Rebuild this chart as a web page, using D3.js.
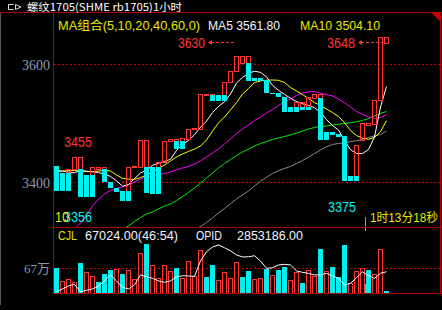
<!DOCTYPE html>
<html><head><meta charset="utf-8">
<script src="https://cdn.jsdelivr.net/npm/d3@7"></script>
<style>html,body{margin:0;padding:0;background:#000;overflow:hidden}</style>
</head><body>
<svg id="c" width="442" height="310" style="display:block;background:#000"></svg>
<script>
// ---- data (tower-line bars: red part top->split, cyan part split->bottom) ----
const towerTop = [3427,3415,3422,3442,3442,3412,3425,3425,3425,3400,3390,3385,3425,3427,3471,3471,3425,3434,3470,3473,3473,3475,3490,3492,3549,3549,3549,3547,3570,3588,3614,3614,3614,3576,3576,3573,3551,3551,3544,3527,3536,3536,3544,3549,3549,3485,3485,3481,3478,3410,3463,3500,3500,3539,3646,3646];
const towerSplit = [3427,3415,3415,3422,3422,3412,3412,3422,3422,3400,3390,3385,3385,3425,3425,3425,3425,3425,3434,3470,3470,3470,3473,3490,3490,3547,3547,3547,3547,3570,3588,3602,3602,3576,3576,3573,3551,3551,3544,3527,3527,3527,3527,3542,3542,3485,3485,3481,3478,3410,3410,3471,3497,3498,3539,3636];
const towerBottom = [3385,3385,3385,3422,3375,3375,3375,3422,3400,3390,3383,3368,3368,3425,3425,3381,3380,3380,3434,3470,3456,3456,3473,3490,3490,3547,3537,3537,3537,3570,3588,3602,3571,3571,3571,3551,3549,3544,3519,3519,3519,3522,3522,3542,3471,3471,3480,3476,3402,3402,3402,3471,3497,3498,3539,3636];

const ma5 = [3418.1,3418.6,3416.9,3415.6,3420.0,3417.6,3417.5,3416.1,3413.1,3409.5,3402.0,3392.9,3395.8,3405.9,3415.3,3420.3,3428.3,3431.9,3434.9,3438.5,3453.4,3463.6,3470.3,3480.2,3492.9,3503.1,3517.8,3528.0,3535.9,3549.2,3567.8,3577.3,3584.2,3587.8,3585.8,3578.3,3563.9,3555.4,3548.5,3541.9,3536.4,3532.7,3529.7,3525.8,3518.1,3505.9,3495.6,3488.1,3470.3,3454.7,3448.3,3448.1,3455.1,3476.3,3527.1,3561.8];
const ma10 = [3419.2,3418.6,3419.5,3419.5,3419.2,3418.3,3417.5,3418.6,3419.8,3418.6,3411.9,3406.3,3405.1,3404.2,3407.5,3411.5,3417.5,3422.9,3428.8,3435.6,3442.4,3447.5,3451.7,3455.9,3461.0,3471.2,3486.4,3500.0,3510.2,3522.0,3534.7,3549.2,3558.5,3568.6,3571.2,3572.5,3572.9,3572.4,3568.6,3560.2,3554.2,3548.3,3541.5,3534.7,3529.7,3523.7,3517.8,3511.0,3500.8,3487.3,3478.8,3474.1,3472.4,3475.4,3485.3,3504.1];
const ma20 = [null,null,null,3320.3,3330.5,3344.1,3359.3,3371.2,3379.7,3385.6,3389.0,3391.5,3394.9,3400.0,3405.1,3408.5,3411.0,3412.7,3414.4,3417.0,3420.3,3423.7,3426.3,3430.5,3435.6,3442.4,3449.2,3455.9,3464.4,3472.9,3482.2,3489.8,3496.6,3504.2,3510.2,3517.0,3522.9,3529.7,3535.6,3540.7,3546.6,3550.8,3552.5,3553.4,3550.3,3548.3,3545.8,3540.7,3534.7,3527.1,3519.5,3514.4,3510.2,3508.0,3509.3,3514.4];
const ma40 = [null,null,null,null,null,null,null,null,null,null,null,3320.3,3325.4,3333.1,3339.8,3345.8,3349.2,3354.2,3359.3,3362.7,3368.6,3375.4,3382.2,3389.8,3398.3,3406.8,3415.3,3423.7,3431.4,3438.1,3444.9,3450.8,3455.9,3461.0,3465.3,3468.6,3472.0,3474.6,3477.1,3479.7,3483.1,3486.4,3489.8,3492.4,3494.1,3494.9,3496.6,3497.8,3499.2,3500.5,3502.2,3504.2,3507.6,3511.9,3516.1,3519.5];
const ma60 = [null,null,null,null,null,null,null,null,null,null,null,null,null,null,null,null,null,null,null,null,null,null,null,3318.6,3324.6,3331.4,3339.0,3347.5,3355.1,3363.2,3371.2,3378.0,3384.7,3393.2,3401.2,3408.0,3414.4,3419.2,3422.9,3426.3,3431.4,3436.4,3441.9,3448.3,3454.2,3459.8,3463.6,3465.3,3466.6,3468.3,3470.0,3472.0,3475.4,3478.0,3480.5,3486.4];

// volume in 万 (10k), colour direction per bar (R = red hollow, C = cyan filled)
const volume = [68.6,33,38,29.5,81,56,46,29.5,52,62,66,52,62,38,108,132,75,40,75,60,68,40,87,46,116,44,76,36,58,40,83,43,60,37.5,41,65,48,62,70.5,35,56,27.6,62,47,119,59,70.5,44,129,26,60,67,62,51,118,6];
const volumeDir = "CRRRCRRCCCRCRRRCRRRRCRRRRCCRRRRCCRRCRCCRRCRRCRCCCRRRCRRC".split("");
// open interest (thousand lots)
const openInterest = [2753,2767,2782,2790,2753,2760,2767,2780,2808,2837,2807,2775,2767,2787,2837,2828,2820,2807,2800,2807,2827,2833,2832,2830,2907,2953,2977,2987,2973,2958,2937,2927,2928,2933,2907,2870,2873,2887,2890,2887,2857,2850,2845,2837,2837,2845,2832,2820,2787,2795,2823,2853,2833,2820,2845,2853];

const priceTicks = [3600, 3400];
const volumeTicks = [67];
const volumeTickLabels = ["67万"];
const title = "螺纹1705(SHME rb1705)1小时";
const maHeader = "MA组合(5,10,20,40,60,0)";
const ma5Label = "MA5 3561.80", ma10Label = "MA10 3504.10";
const highLabels = [{t:"3630", idx:29}, {t:"3648", idx:54}];

// ---- scales ----
const n = towerTop.length;
const x = d3.scaleLinear().domain([0, n]).range([54, 390]);
const y = d3.scaleLinear().domain([3400, 3600]).range([182, 64]);
const yVol = d3.scaleLinear().domain([0, 67]).range([293, 268.3]);
const yOI = d3.scaleLinear().domain([2745, 3072]).range([293.3, 228]);

const RED = "#ff3434", CYAN = "#00f0f0", FRAME = "#b00000", DOT = "#c80000";
const svg = d3.select("#c");

// frame
const frame = svg.append("g").attr("shape-rendering","crispEdges");
frame.append("line").attr("x1",0.5).attr("x2",0.5).attr("y1",13).attr("y2",305).attr("stroke","#555");
frame.append("line").attr("x1",0).attr("x2",442).attr("y1",12.5).attr("y2",12.5).attr("stroke",FRAME);
frame.append("line").attr("x1",53.5).attr("x2",53.5).attr("y1",13).attr("y2",293.5).attr("stroke",FRAME);
frame.append("line").attr("x1",440.5).attr("x2",440.5).attr("y1",13).attr("y2",293.5).attr("stroke",FRAME);
frame.append("line").attr("x1",53).attr("x2",441).attr("y1",227.5).attr("y2",227.5).attr("stroke",FRAME);
frame.append("line").attr("x1",53).attr("x2",441).attr("y1",293.5).attr("y2",293.5).attr("stroke",FRAME);
svg.append("path").attr("d","M431,13 L441,13 L441,22 Z").attr("fill","#c00000");

// title icon + text
svg.append("path").attr("d","M13.5,4.5 H8.5 V9.5 H13.5").attr("fill","none").attr("stroke","#ddd");
svg.append("path").attr("d","M15.5,4.5 L21,7 L15.5,9.5 Z").attr("fill","none").attr("stroke","#ddd");
svg.append("text").attr("x",27).attr("y",11).attr("fill","#fff")
  .attr("font-family","'Noto Sans CJK SC','Liberation Mono',monospace").attr("font-size",10.5)
  .attr("textLength",155).attr("lengthAdjust","spacingAndGlyphs").text(title);

// MA header
const hdrFont = "'Liberation Sans','Noto Sans CJK SC',sans-serif";
svg.append("text").attr("x",58).attr("y",30).attr("fill","#e8e800").attr("font-family",hdrFont).attr("font-size",12.5)
  .attr("textLength",142).attr("lengthAdjust","spacingAndGlyphs").text(maHeader);
svg.append("text").attr("x",208).attr("y",30).attr("fill","#f0f4ff").attr("font-family",hdrFont).attr("font-size",12.5)
  .attr("textLength",72).attr("lengthAdjust","spacingAndGlyphs").text(ma5Label);
svg.append("text").attr("x",300).attr("y",30).attr("fill","#e8e800").attr("font-family",hdrFont).attr("font-size",12.5)
  .attr("textLength",80).attr("lengthAdjust","spacingAndGlyphs").text(ma10Label);

// grid dotted lines + axis labels
svg.append("g").selectAll("line").data(priceTicks).join("line")
  .attr("x1",54).attr("x2",440).attr("y1",d=>Math.round(y(d))+0.5).attr("y2",d=>Math.round(y(d))+0.5)
  .attr("stroke",DOT).attr("stroke-dasharray","2,2").attr("shape-rendering","crispEdges");
svg.append("g").selectAll("text").data(priceTicks).join("text")
  .attr("x",50).attr("y",d=>y(d)+5.5).attr("text-anchor","end").attr("fill","#8a9bb0")
  .attr("font-family","'Liberation Serif',serif").attr("font-size",14).text(d=>d);
svg.append("g").selectAll("line").data(volumeTicks).join("line")
  .attr("x1",54).attr("x2",440).attr("y1",d=>Math.round(yVol(d))+0.5).attr("y2",d=>Math.round(yVol(d))+0.5)
  .attr("stroke",DOT).attr("stroke-dasharray","2,2").attr("shape-rendering","crispEdges");
svg.append("g").selectAll("text").data(volumeTicks).join("text")
  .attr("x",50).attr("y",d=>yVol(d)+5).attr("text-anchor","end").attr("fill","#8a9bb0")
  .attr("font-family","'Liberation Serif','Noto Sans CJK SC',serif").attr("font-size",13).text((d,i)=>volumeTickLabels[i]);

// MA lines (clipped to main panel)
svg.append("clipPath").attr("id","mainclip").append("rect").attr("x",54).attr("y",13).attr("width",386).attr("height",214);
const lineGen = d3.line().defined(d=>d!=null).x((d,i)=>x(i)+2.5).y(d=>y(d));
const maG = svg.append("g").attr("clip-path","url(#mainclip)");
[[ma60,"#8c8c8c"],[ma40,"#00f000"],[ma20,"#ff00ff"],[ma10,"#ffff00"],[ma5,"#ffffff"]].forEach(([s,c])=>{
  maG.append("path").attr("d",lineGen(s)).attr("fill","none").attr("stroke",c).attr("stroke-width",1);
});

// tower bars
const bars = svg.append("g").attr("shape-rendering","crispEdges");
for (let i=0;i<n;i++){
  const x0 = Math.round(x(i));
  const t = Math.round(y(towerTop[i])), s = Math.round(y(towerSplit[i])), b = Math.round(y(towerBottom[i]));
  if (s > t || towerSplit[i] < towerTop[i]) {
    const bot = Math.max(s, t+1);
    bars.append("path").attr("d",`M${x0+0.5},${t+0.5} H${x0+4.5} V${bot+0.5} H${x0+0.5} Z`)
      .attr("fill","none").attr("stroke",RED);
  }
  if (towerBottom[i] < towerSplit[i]) {
    bars.append("rect").attr("x",x0).attr("y",s).attr("width",5).attr("height",Math.max(b-s,1)).attr("fill",CYAN);
  }
}

// price annotations
const annFont = "'Liberation Sans',sans-serif";
svg.append("text").attr("x",178).attr("y",48).attr("fill",RED).attr("font-family",annFont).attr("font-size",14)
  .attr("textLength",27).attr("lengthAdjust","spacingAndGlyphs").text(highLabels[0].t);
svg.append("text").attr("x",327).attr("y",48).attr("fill",RED).attr("font-family",annFont).attr("font-size",14)
  .attr("textLength",28).attr("lengthAdjust","spacingAndGlyphs").text(highLabels[1].t);
[[208,235],[358,383]].forEach(([a,b])=>{
  svg.append("line").attr("x1",a+3).attr("x2",b).attr("y1",42.5).attr("y2",42.5).attr("stroke",RED)
    .attr("stroke-dasharray","3,2").attr("shape-rendering","crispEdges");
  svg.append("path").attr("d",`M${a},42.5 L${a+4},40 L${a+4},45 Z`).attr("fill",RED);
});
svg.append("text").attr("x",64).attr("y",147).attr("fill",RED).attr("font-family",annFont).attr("font-size",14)
  .attr("textLength",28).attr("lengthAdjust","spacingAndGlyphs").text("3455");
svg.append("text").attr("x",328).attr("y",212).attr("fill",CYAN).attr("font-family",annFont).attr("font-size",14)
  .attr("textLength",28).attr("lengthAdjust","spacingAndGlyphs").text("3375");
svg.append("text").attr("x",64).attr("y",222).attr("fill",CYAN).attr("font-family",annFont).attr("font-size",14)
  .attr("textLength",28).attr("lengthAdjust","spacingAndGlyphs").text("3356");
svg.append("text").attr("x",55).attr("y",222).attr("fill","#e8e800").attr("font-family",annFont).attr("font-size",14)
  .attr("textLength",14).attr("lengthAdjust","spacingAndGlyphs").text("10");
svg.append("text").attr("x",370).attr("y",222).attr("fill","#e8e800").attr("font-family","'Liberation Sans','Noto Sans CJK SC',sans-serif").attr("font-size",12.5)
  .attr("textLength",68).attr("lengthAdjust","spacingAndGlyphs").text("1时13分18秒");
svg.append("line").attr("x1",365.5).attr("x2",365.5).attr("y1",217).attr("y2",227).attr("stroke","#999").attr("shape-rendering","crispEdges");

// volume header
svg.append("text").attr("x",58).attr("y",240).attr("fill","#e0e000").attr("font-family",hdrFont).attr("font-size",12.5)
  .attr("textLength",19).attr("lengthAdjust","spacingAndGlyphs").text("CJL");
svg.append("text").attr("x",85).attr("y",240).attr("fill","#f0f4ff").attr("font-family",hdrFont).attr("font-size",12.5)
  .attr("textLength",93).attr("lengthAdjust","spacingAndGlyphs").text("67024.00(46:54)");
svg.append("text").attr("x",196).attr("y",240).attr("fill","#f0f4ff").attr("font-family",hdrFont).attr("font-size",12.5)
  .attr("textLength",26).attr("lengthAdjust","spacingAndGlyphs").text("OPID");
svg.append("text").attr("x",237).attr("y",240).attr("fill","#f0f4ff").attr("font-family",hdrFont).attr("font-size",12.5)
  .attr("textLength",66).attr("lengthAdjust","spacingAndGlyphs").text("2853186.00");

// volume bars
const vg = svg.append("g").attr("shape-rendering","crispEdges");
const base = Math.round(yVol(0));
volume.forEach((v,i)=>{
  const x0 = Math.round(x(i)), top = Math.round(yVol(v));
  if (volumeDir[i]==="R") {
    vg.append("path").attr("d",`M${x0+0.5},${base} V${top+0.5} H${x0+4.5} V${base}`).attr("fill","none").attr("stroke",RED);
  } else {
    vg.append("rect").attr("x",x0).attr("y",top).attr("width",5).attr("height",base-top).attr("fill",CYAN);
  }
});
svg.append("line").attr("x1",365.5).attr("x2",365.5).attr("y1",228).attr("y2",231).attr("stroke","#999").attr("shape-rendering","crispEdges");
svg.append("line").attr("x1",365.5).attr("x2",365.5).attr("y1",284).attr("y2",293).attr("stroke","#999").attr("shape-rendering","crispEdges");

// open interest line
svg.append("path").attr("d", d3.line().x((d,i)=>x(i)+2.5).y(d=>yOI(d))(openInterest))
  .attr("fill","none").attr("stroke","#ffffff").attr("stroke-width",1);
</script>
</body></html>
